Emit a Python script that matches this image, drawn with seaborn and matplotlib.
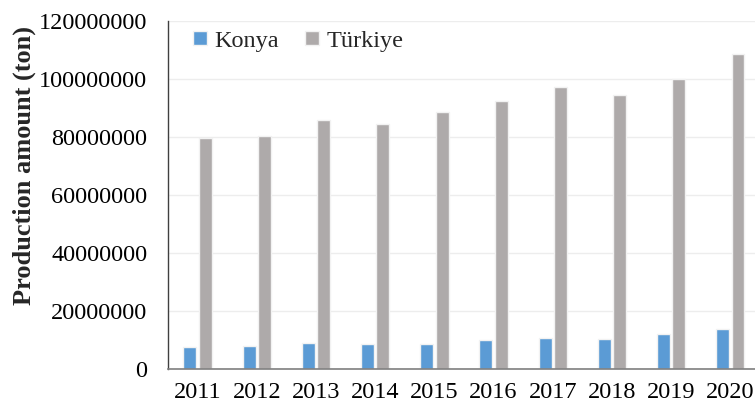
import pandas as pd
import seaborn as sns
import matplotlib.pyplot as plt

# Data (tons)
years = ['2011', '2012', '2013', '2014', '2015', '2016', '2017', '2018', '2019', '2020']
konya = [7.7e6, 8.0e6, 9.0e6, 8.7e6, 8.7e6, 10.0e6, 10.8e6, 10.5e6, 12.1e6, 13.8e6]
turkiye = [79.7e6, 80.5e6, 86.0e6, 84.5e6, 88.5e6, 92.5e6, 97.3e6, 94.6e6, 100.1e6, 108.7e6]
series_names = ['Konya', 'Türkiye']
colors = ['#5B9BD5', '#AEAAAA']
y_ticks = [0, 20000000, 40000000, 60000000, 80000000, 100000000, 120000000]

df = pd.DataFrame({
    'year': years * 2,
    'value': konya + turkiye,
    'region': [series_names[0]] * len(years) + [series_names[1]] * len(years),
})

sns.set_style('white')
plt.rcParams['font.family'] = ['Liberation Serif', 'DejaVu Serif']

fig = plt.figure(figsize=(7.55, 4.12), dpi=100)
ax = fig.add_axes([0.2225, 0.104, 0.784, 0.845])

sns.barplot(data=df, x='year', y='value', hue='region', hue_order=series_names,
            palette=colors, width=0.52, gap=0.16, edgecolor='#F2F2F2', linewidth=1,
            saturation=1, ax=ax)

ax.set_xlim(-0.5, 9.5)
ax.set_ylim(0, 120000000)
ax.set_yticks(y_ticks)
ax.set_yticklabels([str(t) for t in y_ticks])
ax.yaxis.grid(True, color='#EDEDED', linewidth=1)
ax.set_axisbelow(True)
ax.tick_params(axis='both', labelsize=17.5, length=0, colors='#000000')
ax.tick_params(axis='y', pad=15)
ax.tick_params(axis='x', pad=9)

for s in ['top', 'right']:
    ax.spines[s].set_visible(False)
ax.spines['left'].set_color('#404040')
ax.spines['bottom'].set_color('#7F7F7F')
ax.spines['left'].set_linewidth(1)
ax.spines['bottom'].set_linewidth(1.2)

ax.set_xlabel('')
ax.set_ylabel('Production amount (ton)', fontsize=19, fontweight='bold')
ax.yaxis.set_label_coords(-0.2235, 0.586)

ax.legend(loc='upper left', bbox_to_anchor=(0.006, 1.035), ncol=2, frameon=False,
          fontsize=17.5, handlelength=0.55, handleheight=0.55, handletextpad=0.3,
          columnspacing=1.1)

fig.savefig('out.png', dpi=100)
